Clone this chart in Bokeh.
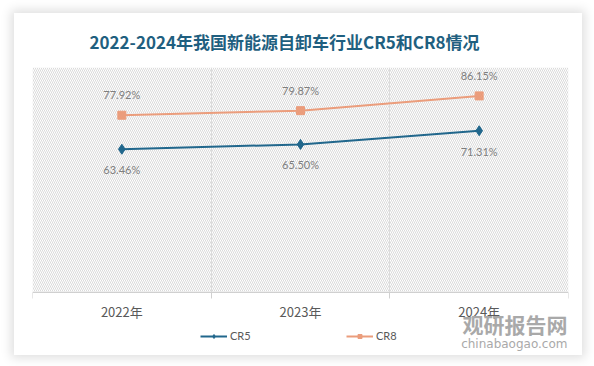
from bokeh.plotting import figure
from bokeh.models import (FixedTicker, BoxAnnotation, Legend, LegendItem,
                          ColumnDataSource, LabelSet, Range1d, Label, Grid)
from bokeh.core.properties import value
from bokeh.embed import file_html
from bokeh.resources import INLINE

years = ["2022年", "2023年", "2024年"]
cr5 = [63.46, 65.50, 71.31]
cr8 = [77.92, 79.87, 86.15]
title_text = "2022-2024年我国新能源自卸车行业CR5和CR8情况"
watermark_cn = "观研报告网"
watermark_en = "chinabaogao.com"

xs = [i + 0.5 for i in range(len(years))]
bounds_x = list(range(len(years) + 1))
c5 = "#21678c"
c8 = "#eb9d7c"

# plotting-area value limits and layout geometry
y_top = 98.23
axis_base = 2.48
area_px = 225
frame_px = 288
y_bottom = y_top - (y_top - axis_base) * frame_px / area_px

p = figure(frame_width=536, frame_height=frame_px, output_backend="svg",
           toolbar_location=None,
           x_range=Range1d(0, len(years)), y_range=Range1d(y_bottom, y_top),
           min_border_left=18, min_border_right=14, min_border_top=52,
           min_border_bottom=0)
p.margin = (13, 0, 0, 14)
p.styles = {"box-shadow": "0px 0px 10px 3px rgba(0,0,0,0.13)"}
p.background_fill_color = "white"
p.border_fill_color = "white"
p.outline_line_color = None

p.title.text = title_text
p.title.align = "left"
p.title.offset = 57
p.title.standoff = 27
p.title.text_font = "Noto Sans CJK SC"
p.title.text_font_style = "bold"
p.title.text_font_size = "17px"
p.title.text_color = "#1f5f80"

p.add_layout(BoxAnnotation(bottom=axis_base, fill_alpha=0, line_color=None,
                           hatch_pattern="\\", hatch_color="#dadada",
                           hatch_scale=4, hatch_weight=1, level="underlay"))

p.yaxis.visible = False
p.ygrid.visible = False
grid = p.xgrid[0]
grid.ticker = FixedTicker(ticks=bounds_x[1:-1])
grid.grid_line_color = "#dddddd"
grid.grid_line_width = 1
if "cross_bounds" in Grid.properties():
    grid.cross_bounds = (axis_base, y_top)
else:
    grid.visible = False
    p.segment(x0=bounds_x[1:-1], x1=bounds_x[1:-1],
              y0=[axis_base] * (len(bounds_x) - 2), y1=[y_top] * (len(bounds_x) - 2),
              line_color="#dddddd", line_width=1, level="underlay")

ax = p.xaxis[0]
ax.fixed_location = axis_base
ax.ticker = FixedTicker(ticks=xs, minor_ticks=bounds_x)
ax.major_label_overrides = {x: y for x, y in zip(xs, years)}
ax.major_tick_line_color = None
ax.major_tick_out = 0
ax.major_tick_in = 0
ax.minor_tick_line_color = "#d0d0d0"
ax.minor_tick_in = 0
ax.minor_tick_out = 6
ax.axis_line_color = "#d0d0d0"
ax.major_label_text_font = "Noto Sans CJK SC"
ax.major_label_text_font_size = "13px"
ax.major_label_text_color = "#595959"
ax.major_label_standoff = 3

l5 = p.line(xs, cr5, line_color=c5, line_width=2)
m5 = p.scatter(xs, cr5, marker="diamond", size=10, fill_color=c5, line_color=c5)
l8 = p.line(xs, cr8, line_color=c8, line_width=2)
m8 = p.scatter(xs, cr8, marker="square", size=8, fill_color=c8, line_color=c8)

src5 = ColumnDataSource(dict(x=xs, y=cr5, t=[f"{v:.2f}%" for v in cr5]))
src8 = ColumnDataSource(dict(x=xs, y=cr8, t=[f"{v:.2f}%" for v in cr8]))
p.add_layout(LabelSet(x="x", y="y", text="t", source=src5, y_offset=-14,
                      text_align="center", text_baseline="top",
                      text_font=value("Lato"), text_font_size=value("11px"),
                      text_color="#7f7f7f"))
p.add_layout(LabelSet(x="x", y="y", text="t", source=src8, y_offset=14,
                      text_align="center", text_baseline="bottom",
                      text_font=value("Lato"), text_font_size=value("11px"),
                      text_color="#7f7f7f"))

legend = Legend(items=[LegendItem(label="CR5", renderers=[l5, m5]),
                       LegendItem(label="CR8", renderers=[l8, m8])],
                orientation="horizontal", location=(168, 13),
                glyph_width=27, glyph_height=10, label_standoff=3, spacing=0,
                label_width=116,
                label_text_font="Lato", label_text_font_size="11px",
                label_text_color="#595959", border_line_color=None,
                background_fill_alpha=0, padding=0, margin=0)
p.add_layout(legend, "center")

p.add_layout(Label(x=535, y=32, x_units="screen", y_units="screen", text=watermark_cn,
                   text_align="right", text_baseline="middle",
                   text_font="Noto Sans CJK SC", text_font_style="bold",
                   text_font_size="21px", text_color="#a9a9a9"))
p.add_layout(Label(x=535, y=12, x_units="screen", y_units="screen", text=watermark_en,
                   text_align="right", text_baseline="middle",
                   text_font="DejaVu Sans", text_font_size="12px",
                   text_color="#a9a9a9"))

open("out.html", "w").write(file_html(p, INLINE))
